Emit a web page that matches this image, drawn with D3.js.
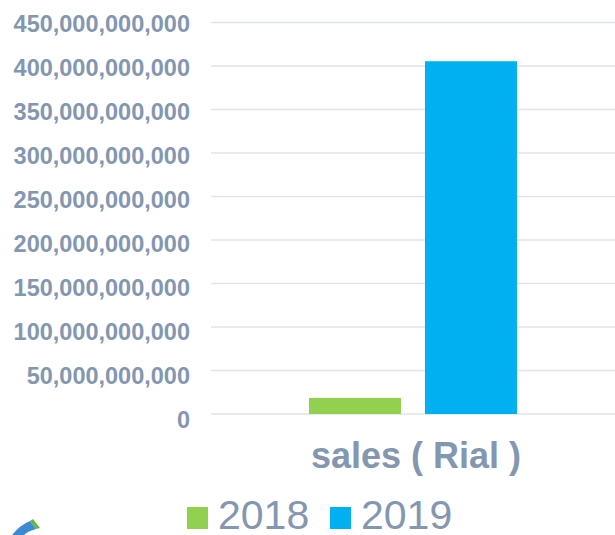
<!DOCTYPE html>
<html>
<head>
<meta charset="utf-8">
<script src="https://cdn.jsdelivr.net/npm/d3@7"></script>
<style>
  body { margin: 0; background: #fff; }
  text { font-family: "Liberation Sans", Arial, sans-serif; }
</style>
</head>
<body>
<div id="chart"></div>
<script>
// data
const categories = ["sales ( Rial )"];
const years = ["2018", "2019"];
const sales2018 = [18500000000];
const sales2019 = [405500000000];
const yTicks = [0, 50e9, 100e9, 150e9, 200e9, 250e9, 300e9, 350e9, 400e9, 450e9];
const colors = { "2018": "#92d050", "2019": "#00b0f0" };

const rows = categories.map((c, i) => ({ cat: c, "2018": sales2018[i], "2019": sales2019[i] }));

const w = 615, h = 535;
const svg = d3.select("#chart").append("svg")
  .attr("width", w)
  .attr("height", h);

const labelColor = "#8497b0";

let y = d3.scaleLinear().domain([0, 450e9]).range([414, 22.5]);
// tick labels sit a touch lower than their gridlines towards the bottom
let yLabel = d3.scaleLinear().domain([0, 450e9]).range([420, 23.5]);
let x0 = d3.scaleBand().domain(categories).range([211, 615]).paddingOuter(0.471);
let x1 = d3.scaleBand().domain(years).range([0, x0.bandwidth()]).paddingInner(0.207);

// gridlines
svg.append("g").attr("id", "grid")
  .selectAll("line")
  .data(yTicks)
  .join("line")
  .attr("x1", 211)
  .attr("x2", 615)
  .attr("y1", d => y(d))
  .attr("y2", d => y(d))
  .attr("stroke", "#dfe4ec")
  .attr("stroke-width", 1.5);

// y axis labels
let yAxis = d3.axisLeft(yLabel).tickValues(yTicks).tickSize(0).tickPadding(0)
  .tickFormat(d => d3.format(",")(d));
let ya = svg.append("g").attr("transform", "translate(190,0)").call(yAxis);
ya.select(".domain").remove();
ya.selectAll("text")
  .attr("fill", labelColor)
  .attr("font-size", "23.5px")
  .attr("font-weight", "bold")
  .attr("font-family", "'Liberation Sans', Arial, sans-serif");

// bars
let groups = svg.append("g").attr("id", "bars")
  .selectAll("g")
  .data(rows)
  .join("g")
  .attr("transform", d => "translate(" + x0(d.cat) + ",0)");
groups.selectAll("rect")
  .data(d => years.map(k => ({ key: k, value: d[k] })))
  .join("rect")
  .attr("x", d => x1(d.key))
  .attr("y", d => y(d.value))
  .attr("width", x1.bandwidth())
  .attr("height", d => y(0) - y(d.value))
  .attr("fill", d => colors[d.key]);

// category label
svg.append("g")
  .selectAll("text")
  .data(categories)
  .join("text")
  .attr("x", d => x0(d) + x0.bandwidth() / 2 + 3)
  .attr("y", 468)
  .attr("text-anchor", "middle")
  .attr("fill", labelColor)
  .attr("font-size", "36px")
  .attr("font-weight", "bold")
  .text(d => d);

// legend
let legend = svg.append("g").attr("id", "legend");
let legendX = [187, 330];
years.forEach((k, i) => {
  legend.append("rect")
    .attr("x", legendX[i])
    .attr("y", 507)
    .attr("width", 21)
    .attr("height", 22)
    .attr("fill", colors[k]);
  legend.append("text")
    .attr("x", legendX[i] + 31)
    .attr("y", 529)
    .attr("fill", labelColor)
    .attr("font-size", "41px")
    .text(k);
});

// bit of a logo peeking in at the bottom left
let logo = svg.append("g").attr("id", "logo");
logo.append("path")
  .attr("d", "M12,535 Q20,525 30,521 L36,529 Q28,531 24,535 Z")
  .attr("fill", "#3d8ad0");
logo.append("path")
  .attr("d", "M30,521 L33,519 L40,528 L36,529 Z")
  .attr("fill", "#5fb84a");
</script>
</body>
</html>
